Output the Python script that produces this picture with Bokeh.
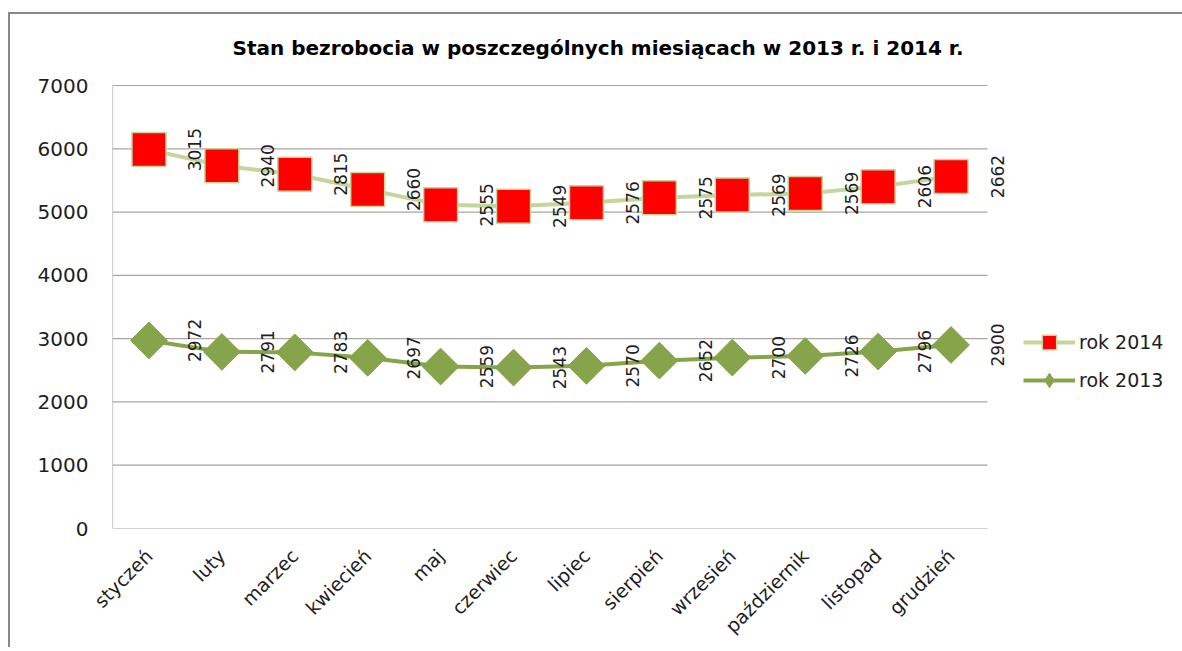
import numpy as np
from bokeh.plotting import figure
from bokeh.models import ColumnDataSource, FixedTicker, Legend, LegendItem, Range1d
from bokeh.embed import file_html
from bokeh.resources import INLINE
from bokeh.core.properties import value

# ---------------- data ----------------
months = ["styczeń", "luty", "marzec", "kwiecień", "maj", "czerwiec",
          "lipiec", "sierpień", "wrzesień", "październik", "listopad", "grudzień"]
rok_2013 = [2972, 2791, 2783, 2697, 2559, 2543, 2570, 2652, 2700, 2726, 2796, 2900]
rok_2014 = [3015, 2940, 2815, 2660, 2555, 2549, 2576, 2575, 2569, 2569, 2606, 2662]
y_ticks = [0, 1000, 2000, 3000, 4000, 5000, 6000, 7000]
title_text = "Stan bezrobocia w poszczególnych miesiącach w 2013 r. i 2014 r."
series_names = ["rok 2014", "rok 2013"]

# ---------------- styling / layout ----------------
C13 = "#86A44A"
C14_LINE = "#C3D69B"
C14_FILL = "#FF0000"
GRID = "#A6A6A6"
TXT = "#1E1E1E"
FONT = "DejaVu Sans"

PLOT_W = 875          # px width of the category area
PLOT_H = 443          # px height of the 0..7000 area
TOP_PAD = 69          # px of frame kept above the 7000 line (title lives there)
RIGHT_PAD = 25        # px of frame kept right of last category (for data labels)
TITLE_DROP = 38       # px from 7000 line up to title baseline
TITLE_LEFT = 120      # px from y axis to title start

n = len(months)
xc = np.arange(n) + 0.5
s13 = np.array(rok_2013, dtype=float)
s14 = s13 + np.array(rok_2014, dtype=float)   # stacked line chart

src = ColumnDataSource(dict(
    x=xc, s13=s13, s14=s14,
    l13=[str(v) for v in rok_2013],
    l14=[str(v) for v in rok_2014],
))

y_top = y_ticks[-1]
units_per_px_y = (y_top - y_ticks[0]) / PLOT_H
units_per_px_x = n / PLOT_W
y_end = y_top + TOP_PAD * units_per_px_y
x_end = n + RIGHT_PAD * units_per_px_x

p = figure(
    x_range=Range1d(0, x_end), y_range=Range1d(y_ticks[0], y_end),
    frame_width=PLOT_W + RIGHT_PAD, frame_height=PLOT_H + TOP_PAD,
    min_border_left=102, min_border_top=2, min_border_right=168, min_border_bottom=118,
    output_backend="svg", toolbar_location=None,
)
p.styles = {"border-top": "2px solid #888888", "border-left": "2px solid #888888",
            "margin-top": "12px", "margin-left": "8px"}
p.background_fill_color = "white"
p.border_fill_color = "white"
p.outline_line_color = None

# title drawn inside the frame area above the plot
p.text(x=[TITLE_LEFT * units_per_px_x], y=[y_top + TITLE_DROP * units_per_px_y],
       text=[title_text], text_align="left", text_baseline="alphabetic",
       text_font=value(FONT), text_font_style="bold", text_font_size="20px",
       text_color="#000000")

# grid + left axis line (manual so they stop at the plot area)
p.xgrid.grid_line_color = None
p.ygrid.grid_line_color = None
p.segment(x0=[0] * len(y_ticks), x1=[n] * len(y_ticks), y0=y_ticks, y1=y_ticks,
          line_color=GRID, line_width=1.2)
p.segment(x0=[0], x1=[0], y0=[y_ticks[0]], y1=[y_top], line_color=GRID, line_width=1.2)

# y axis
p.yaxis.ticker = FixedTicker(ticks=y_ticks)
p.yaxis.major_tick_out = 0
p.yaxis.major_tick_in = 0
p.yaxis.minor_tick_out = 0
p.yaxis.minor_tick_in = 0
p.yaxis.axis_line_color = None
p.yaxis.major_label_text_font = FONT
p.yaxis.major_label_text_font_size = "20px"
p.yaxis.major_label_text_color = TXT
p.yaxis.major_label_standoff = 24

# x axis
p.xaxis.ticker = FixedTicker(ticks=list(xc))
p.xaxis.major_label_overrides = {float(x): m for x, m in zip(xc, months)}
p.xaxis.major_label_orientation = np.pi / 4
p.xaxis.major_tick_out = 0
p.xaxis.major_tick_in = 0
p.xaxis.minor_tick_out = 0
p.xaxis.minor_tick_in = 0
p.xaxis.axis_line_color = None
p.xaxis.major_label_text_font = FONT
p.xaxis.major_label_text_font_size = "19px"
p.xaxis.major_label_text_color = TXT
p.xaxis.major_label_standoff = 24

# series 2013 (bottom)
l13 = p.line("x", "s13", source=src, line_color=C13, line_width=4)
# plain diamond hidden under the wide diamonds; it supplies the legend symbol
d13_leg = p.scatter("x", "s13", source=src, marker="diamond", size=24,
                    fill_color=C13, line_color=C13, line_width=1)
d13 = p.scatter("x", "s13", source=src, marker="square", size=26, angle=np.pi / 4,
                fill_color=C13, line_color=C13, line_width=1)
# series 2014 (stacked on top)
l14 = p.line("x", "s14", source=src, line_color=C14_LINE, line_width=4)
q14 = p.scatter("x", "s14", source=src, marker="square", size=34,
                fill_color=C14_FILL, line_color=C14_LINE, line_width=1.5)

# data labels
for ycol, tcol in (("s14", "l14"), ("s13", "l13")):
    p.text(x="x", y=ycol, text=tcol, source=src, angle=np.pi / 2, x_offset=46,
           text_align="center", text_baseline="middle",
           text_font=value(FONT), text_font_size="17px", text_color=TXT)

legend = Legend(
    items=[LegendItem(label=series_names[0], renderers=[l14, q14]),
           LegendItem(label=series_names[1], renderers=[l13, d13_leg])],
    location=(11, 130), orientation="vertical",
    glyph_width=52, glyph_height=36, label_height=36, spacing=2,
    padding=0, margin=0, label_standoff=4,
    border_line_color=None, background_fill_alpha=0,
    label_text_font=FONT, label_text_font_size="19px", label_text_color=TXT,
)
p.add_layout(legend, "right")

open("out.html", "w").write(file_html(p, INLINE))
